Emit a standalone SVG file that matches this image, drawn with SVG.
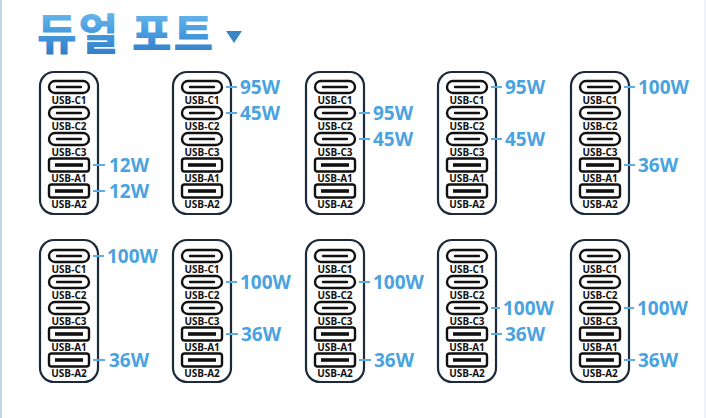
<svg xmlns="http://www.w3.org/2000/svg" width="706" height="418" viewBox="0 0 706 418">
<defs>
<linearGradient id="tg" x1="0" y1="0" x2="0" y2="1">
<stop offset="0" stop-color="#7cc4f0"/>
<stop offset="0.5" stop-color="#4a9ee0"/>
<stop offset="1" stop-color="#2a73c0"/>
</linearGradient>
<g id="pc"><rect x="0" y="-6" width="40" height="12" rx="6" class="po"/><line x1="8" y1="0" x2="32" y2="0" class="pi"/></g>
<g id="pa"><rect x="0" y="-6.5" width="40" height="13" rx="2.5" class="po"/><rect x="6" y="-1.8" width="28" height="3.6" class="pb"/></g>
</defs>
<style>
.dev{fill:#fff;stroke:#1d2a3c;stroke-width:2.2}
.po{fill:#fff;stroke:#111;stroke-width:2.4}
.pi{stroke:#111;stroke-width:2.4;stroke-linecap:round}
.pb{fill:#111}
.on .po{stroke:#5aaee6}
.on .pi{stroke:#5aaee6}
.on .pb{fill:#5aaee6}
.lb{font-family:"Open Sans","Liberation Sans",sans-serif;font-weight:700;font-size:10px;fill:#111;text-anchor:middle}
.pw{font-family:"Open Sans","Liberation Sans",sans-serif;font-weight:700;font-size:19px;fill:#4aa3e0}
.cn{stroke:#5aaee6;stroke-width:2}
</style>
<rect width="706" height="418" fill="#fff"/>
<rect x="0" y="0" width="2" height="418" fill="#c6d6e6"/>
<rect x="704" y="0" width="2" height="418" fill="#eef2f6"/>
<g id="title">
<text x="37" y="50" font-family="'Noto Sans CJK KR',sans-serif" font-weight="900" font-size="43" fill="url(#tg)" letter-spacing="2">듀얼 포트</text>
<polygon points="226,31 242,31 234,43" fill="#3a86c6"/>
</g>
<!-- Row 1 -->
<g id="d1">
<rect class="dev" x="40" y="72" width="58" height="142" rx="14"/>
<use href="#pc" x="49" y="87"/><use href="#pc" x="49" y="113"/><use href="#pc" x="49" y="139"/>
<g class="on"><use href="#pa" x="49" y="165"/><use href="#pa" x="49" y="191"/></g>
<text class="lb" x="69" y="104">USB-C1</text><text class="lb" x="69" y="130">USB-C2</text><text class="lb" x="69" y="156">USB-C3</text><text class="lb" x="69" y="182">USB-A1</text><text class="lb" x="69" y="208">USB-A2</text>
<text class="pw" x="109" y="172">12W</text><text class="pw" x="109" y="198">12W</text>
</g>
<g id="d2">
<rect class="dev" x="173" y="72" width="58" height="142" rx="14"/>
<g class="on"><use href="#pc" x="182" y="87"/><use href="#pc" x="182" y="113"/></g><use href="#pc" x="182" y="139"/>
<use href="#pa" x="182" y="165"/><use href="#pa" x="182" y="191"/>
<text class="lb" x="202" y="104">USB-C1</text><text class="lb" x="202" y="130">USB-C2</text><text class="lb" x="202" y="156">USB-C3</text><text class="lb" x="202" y="182">USB-A1</text><text class="lb" x="202" y="208">USB-A2</text>
<text class="pw" x="240" y="94">95W</text><text class="pw" x="240" y="120">45W</text>
</g>
<g id="d3">
<rect class="dev" x="306" y="72" width="58" height="142" rx="14"/>
<use href="#pc" x="315" y="87"/><g class="on"><use href="#pc" x="315" y="113"/><use href="#pc" x="315" y="139"/></g>
<use href="#pa" x="315" y="165"/><use href="#pa" x="315" y="191"/>
<text class="lb" x="335" y="104">USB-C1</text><text class="lb" x="335" y="130">USB-C2</text><text class="lb" x="335" y="156">USB-C3</text><text class="lb" x="335" y="182">USB-A1</text><text class="lb" x="335" y="208">USB-A2</text>
<text class="pw" x="373" y="120">95W</text><text class="pw" x="373" y="146">45W</text>
</g>
<g id="d4">
<rect class="dev" x="438" y="72" width="58" height="142" rx="14"/>
<g class="on"><use href="#pc" x="447" y="87"/></g><use href="#pc" x="447" y="113"/><g class="on"><use href="#pc" x="447" y="139"/></g>
<use href="#pa" x="447" y="165"/><use href="#pa" x="447" y="191"/>
<text class="lb" x="467" y="104">USB-C1</text><text class="lb" x="467" y="130">USB-C2</text><text class="lb" x="467" y="156">USB-C3</text><text class="lb" x="467" y="182">USB-A1</text><text class="lb" x="467" y="208">USB-A2</text>
<text class="pw" x="505" y="94">95W</text><text class="pw" x="505" y="146">45W</text>
</g>
<g id="d5">
<rect class="dev" x="571" y="72" width="58" height="142" rx="14"/>
<g class="on"><use href="#pc" x="580" y="87"/></g><use href="#pc" x="580" y="113"/><use href="#pc" x="580" y="139"/>
<g class="on"><use href="#pa" x="580" y="165"/></g><use href="#pa" x="580" y="191"/>
<text class="lb" x="600" y="104">USB-C1</text><text class="lb" x="600" y="130">USB-C2</text><text class="lb" x="600" y="156">USB-C3</text><text class="lb" x="600" y="182">USB-A1</text><text class="lb" x="600" y="208">USB-A2</text>
<text class="pw" x="638" y="94">100W</text><text class="pw" x="638" y="172">36W</text>
</g>
<!-- Row 2 -->
<g id="d6">
<rect class="dev" x="40" y="240" width="58" height="142" rx="14"/>
<g class="on"><use href="#pc" x="49" y="256"/></g><use href="#pc" x="49" y="282"/><use href="#pc" x="49" y="308"/>
<use href="#pa" x="49" y="334"/><g class="on"><use href="#pa" x="49" y="360"/></g>
<text class="lb" x="69" y="273">USB-C1</text><text class="lb" x="69" y="299">USB-C2</text><text class="lb" x="69" y="325">USB-C3</text><text class="lb" x="69" y="351">USB-A1</text><text class="lb" x="69" y="377">USB-A2</text>
<text class="pw" x="107" y="263">100W</text><text class="pw" x="109" y="367">36W</text>
</g>
<g id="d7">
<rect class="dev" x="173" y="240" width="58" height="142" rx="14"/>
<use href="#pc" x="182" y="256"/><g class="on"><use href="#pc" x="182" y="282"/></g><use href="#pc" x="182" y="308"/>
<g class="on"><use href="#pa" x="182" y="334"/></g><use href="#pa" x="182" y="360"/>
<text class="lb" x="202" y="273">USB-C1</text><text class="lb" x="202" y="299">USB-C2</text><text class="lb" x="202" y="325">USB-C3</text><text class="lb" x="202" y="351">USB-A1</text><text class="lb" x="202" y="377">USB-A2</text>
<text class="pw" x="240" y="289">100W</text><text class="pw" x="241" y="341">36W</text>
</g>
<g id="d8">
<rect class="dev" x="306" y="240" width="58" height="142" rx="14"/>
<use href="#pc" x="315" y="256"/><g class="on"><use href="#pc" x="315" y="282"/></g><use href="#pc" x="315" y="308"/>
<use href="#pa" x="315" y="334"/><g class="on"><use href="#pa" x="315" y="360"/></g>
<text class="lb" x="335" y="273">USB-C1</text><text class="lb" x="335" y="299">USB-C2</text><text class="lb" x="335" y="325">USB-C3</text><text class="lb" x="335" y="351">USB-A1</text><text class="lb" x="335" y="377">USB-A2</text>
<text class="pw" x="373" y="289">100W</text><text class="pw" x="374" y="367">36W</text>
</g>
<g id="d9">
<rect class="dev" x="438" y="240" width="58" height="142" rx="14"/>
<use href="#pc" x="447" y="256"/><use href="#pc" x="447" y="282"/><g class="on"><use href="#pc" x="447" y="308"/></g>
<g class="on"><use href="#pa" x="447" y="334"/></g><use href="#pa" x="447" y="360"/>
<text class="lb" x="467" y="273">USB-C1</text><text class="lb" x="467" y="299">USB-C2</text><text class="lb" x="467" y="325">USB-C3</text><text class="lb" x="467" y="351">USB-A1</text><text class="lb" x="467" y="377">USB-A2</text>
<text class="pw" x="503" y="315">100W</text><text class="pw" x="505" y="341">36W</text>
</g>
<g id="d10">
<rect class="dev" x="571" y="240" width="58" height="142" rx="14"/>
<use href="#pc" x="580" y="256"/><use href="#pc" x="580" y="282"/><g class="on"><use href="#pc" x="580" y="308"/></g>
<use href="#pa" x="580" y="334"/><g class="on"><use href="#pa" x="580" y="360"/></g>
<text class="lb" x="600" y="273">USB-C1</text><text class="lb" x="600" y="299">USB-C2</text><text class="lb" x="600" y="325">USB-C3</text><text class="lb" x="600" y="351">USB-A1</text><text class="lb" x="600" y="377">USB-A2</text>
<text class="pw" x="637" y="315">100W</text><text class="pw" x="638" y="367">36W</text>
</g>
<g id="connectors">
<line class="cn" x1="93" y1="165" x2="105" y2="165"/><line class="cn" x1="93" y1="191" x2="105" y2="191"/>
<line class="cn" x1="226" y1="87" x2="237" y2="87"/><line class="cn" x1="226" y1="113" x2="237" y2="113"/>
<line class="cn" x1="359" y1="113" x2="370" y2="113"/><line class="cn" x1="359" y1="139" x2="370" y2="139"/>
<line class="cn" x1="491" y1="87" x2="502" y2="87"/><line class="cn" x1="491" y1="139" x2="502" y2="139"/>
<line class="cn" x1="624" y1="87" x2="635" y2="87"/><line class="cn" x1="624" y1="165" x2="635" y2="165"/>
<line class="cn" x1="93" y1="256" x2="104" y2="256"/><line class="cn" x1="93" y1="360" x2="105" y2="360"/>
<line class="cn" x1="226" y1="282" x2="237" y2="282"/><line class="cn" x1="226" y1="334" x2="238" y2="334"/>
<line class="cn" x1="359" y1="282" x2="370" y2="282"/><line class="cn" x1="359" y1="360" x2="371" y2="360"/>
<line class="cn" x1="491" y1="308" x2="500" y2="308"/><line class="cn" x1="491" y1="334" x2="502" y2="334"/>
<line class="cn" x1="624" y1="308" x2="634" y2="308"/><line class="cn" x1="624" y1="360" x2="635" y2="360"/>
</g>
</svg>
